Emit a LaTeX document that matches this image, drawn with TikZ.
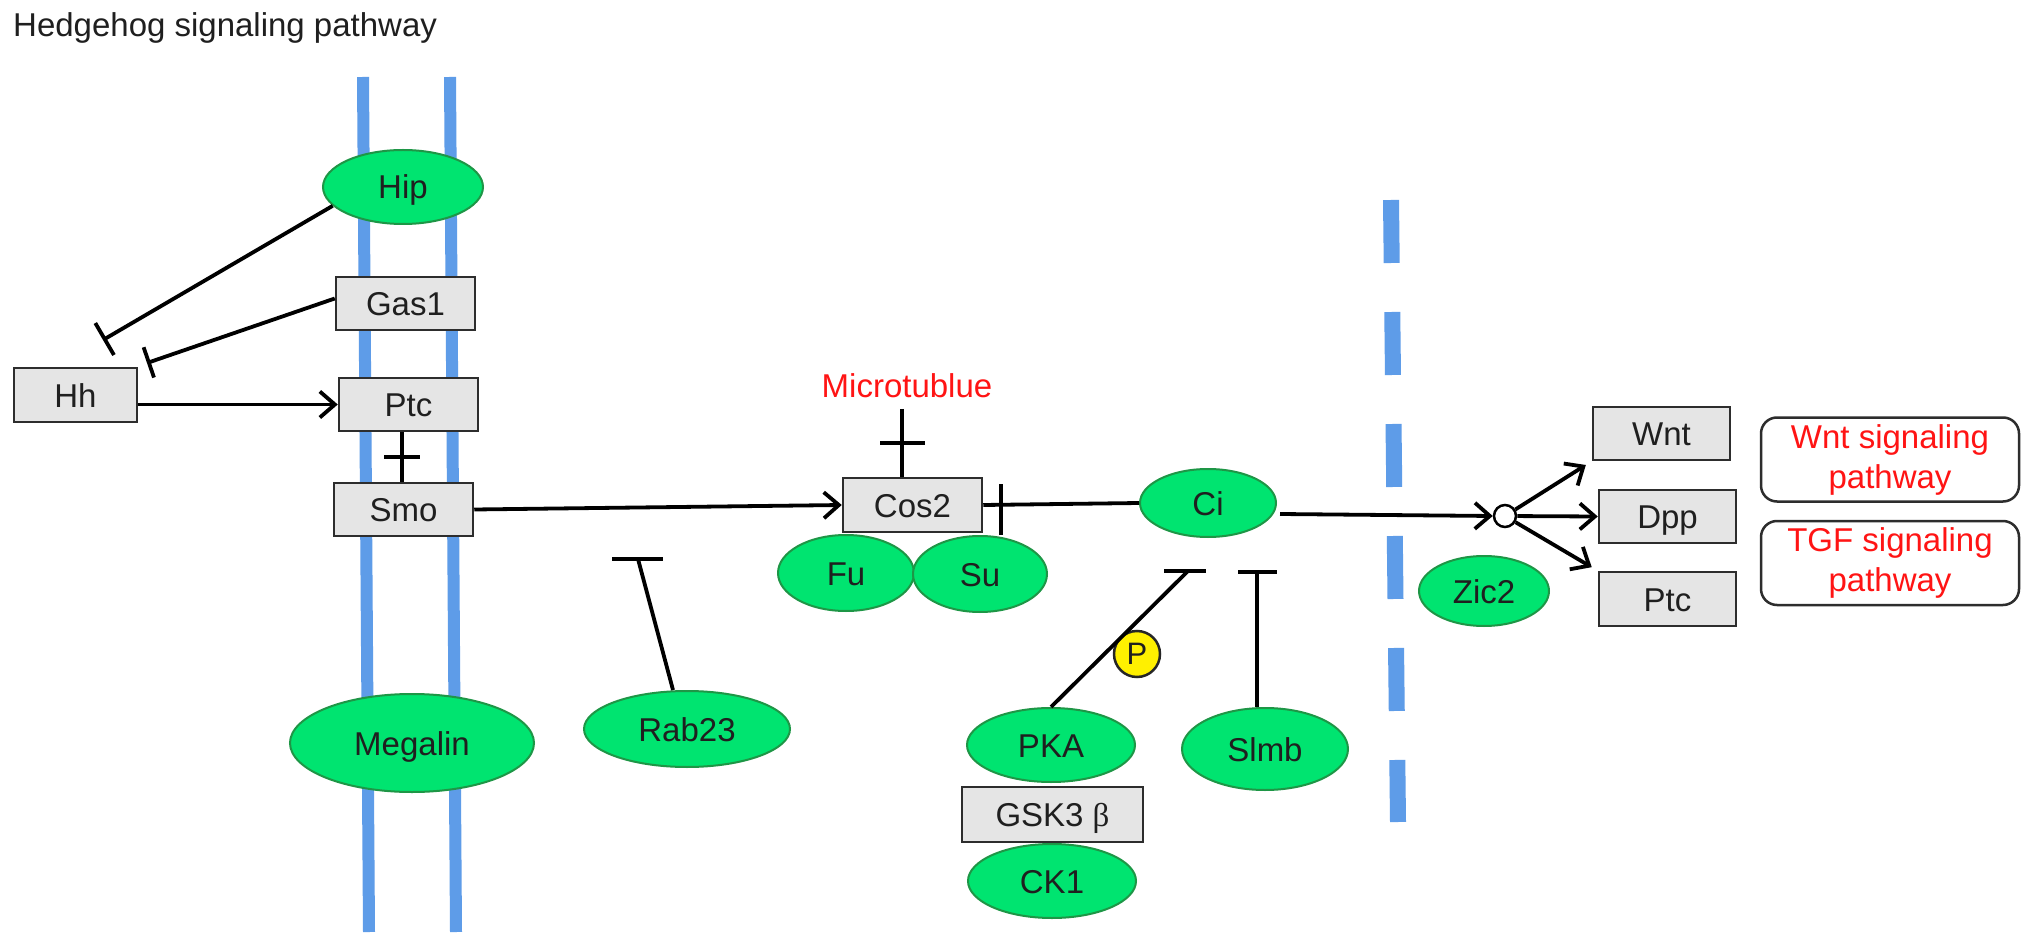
\documentclass[tikz,border=0pt]{standalone}
\usepackage{fontspec}
\setmainfont{Liberation Sans}
\newfontfamily\greekserif{Liberation Serif}
\usetikzlibrary{shapes.geometric,arrows.meta}
\definecolor{nodegreen}{RGB}{0,228,112}
\definecolor{greenline}{RGB}{30,150,70}
\definecolor{boxgray}{RGB}{229,229,229}
\definecolor{boxline}{RGB}{45,45,45}
\definecolor{membrane}{RGB}{94,156,232}
\definecolor{labelred}{RGB}{255,20,20}
\definecolor{pyellow}{RGB}{255,240,0}
\begin{document}
\begin{tikzpicture}[x=1pt,y=-1pt,
  every node/.style={font=\fontsize{33}{40}\selectfont, inner sep=0pt, text=black!88},
  gbox/.style={draw=boxline, fill=boxgray, line width=2.5pt, rectangle, text height=24pt, text depth=0pt},
  gell/.style={draw=greenline, fill=nodegreen, line width=2pt, ellipse, text height=24pt, text depth=0pt},
  conn/.style={line width=3.8pt, black},
  act/.style={conn, -{Straight Barb[length=15pt,width=26pt]}},
  memb/.style={line width=12pt, membrane},
  pbox/.style={draw=boxline, line width=2.5pt, rounded corners=16pt, text=labelred, align=center,
    minimum width=258pt, minimum height=84pt},
]
\fill[white] (0,0) rectangle (2032,949);
\useasboundingbox (0,0) rectangle (2032,949);

% title
\node[anchor=base west] (title) at (13,37) {Hedgehog signaling pathway};

% membranes
\draw[memb] (363,77) -- (369,932);
\draw[memb] (450,77) -- (456,932);
\draw[membrane, line width=16pt, dash pattern=on 63pt off 49pt] (1391,200) -- (1398,822);

% nodes
\node[gell, minimum width=160pt, minimum height=74pt] (Hip) at (403,187) {Hip};
\node[gbox, minimum width=139pt, minimum height=53pt] (Gas1) at (405.5,303.5) {Gas1};
\node[gbox, minimum width=123pt, minimum height=54pt] (Hh) at (75.5,395) {Hh};
\node[gbox, minimum width=139pt, minimum height=53pt] (Ptc) at (408.5,404.5) {Ptc};
\node[gbox, minimum width=139pt, minimum height=53pt] (Smo) at (403.5,509.5) {Smo};
\node[gell, minimum width=244pt, minimum height=98pt] (Megalin) at (412,743) {Megalin};
\node[gell, minimum width=206pt, minimum height=76pt] (Rab23) at (687,729) {Rab23};

\node[anchor=base, text=labelred] (Mt) at (907,398) {Microtublue};
\node[gbox, minimum width=139pt, minimum height=54pt] (Cos2) at (912.5,505) {Cos2};
\node[gell, minimum width=136pt, minimum height=76pt] (Fu) at (846,573) {Fu};
\node[gell, minimum width=134pt, minimum height=76pt] (Su) at (980,574) {Su};
\node[gell, minimum width=136pt, minimum height=68pt] (Ci) at (1208,503) {Ci};

\node[gell, minimum width=168pt, minimum height=74pt] (PKA) at (1051,745) {PKA};
\node[gbox, minimum width=181pt, minimum height=55pt] (GSK) at (1052.5,814.5) {GSK3 {\greekserif β}};
\node[gell, minimum width=168pt, minimum height=74pt] (CK1) at (1052,881) {CK1};
\node[gell, minimum width=166pt, minimum height=82pt] (Slmb) at (1265,749) {Slmb};
\node[circle, draw=black!85, fill=pyellow, line width=2.5pt, minimum size=46pt,
      font=\fontsize{31}{31}\selectfont] (P) at (1137,654) {P};

\node[circle, draw=black, fill=white, line width=2.5pt, minimum size=22pt] (hub) at (1505,516) {};
\node[gell, minimum width=130pt, minimum height=70pt] (Zic2) at (1484,591) {Zic2};
\node[gbox, minimum width=137pt, minimum height=53pt] (Wnt) at (1661.5,433.5) {Wnt};
\node[gbox, minimum width=137pt, minimum height=53pt] (Dpp) at (1667.5,516.5) {Dpp};
\node[gbox, minimum width=137pt, minimum height=54pt] (Ptc2) at (1667.5,599) {Ptc};
\node[pbox] (WntSig) at (1890,459.5) {Wnt signaling\\pathway};
\node[pbox] (TGFSig) at (1890,563) {TGF signaling\\pathway};

% coordinates for free ends
\coordinate (hhT1) at (103,340);
\coordinate (hhT2) at (147,363);
\coordinate (rabT) at (638,559);
\coordinate (mtTop) at (902,409);
\coordinate (cosBar) at (1001,509.5);
\coordinate (pkaT) at (1188,571);
\coordinate (slT) at (1257,572);

% connectors
\draw[conn, -{Bar[width=37pt]}] (Hip.195) -- (hhT1);
\draw[conn, -{Bar[width=32pt]}] ([yshift=5pt]Gas1.west) -- (hhT2);
\draw[act] (Hh.east |- Ptc.west) -- (Ptc.west);
\draw[conn] (Smo.north -| 402,0) -- coordinate (psm) (Ptc.south -| 402,0);
\draw[conn] ([xshift=-18pt]psm) -- ([xshift=18pt]psm);
\draw[act] (Smo.east) -- (Cos2.west);

\draw[conn] ([xshift=-14pt]Rab23.north) -- (rabT);
\draw[conn] ([xshift=-26pt]rabT) -- ([xshift=25pt]rabT);

\draw[conn] (mtTop) -- coordinate (mtc) (mtTop |- Cos2.north);
\draw[conn] ([xshift=-22pt]mtc) -- ([xshift=23pt]mtc);

\draw[conn] (Ci.west) -- (Cos2.east);
\draw[conn] ([yshift=25.5pt]cosBar) -- ([yshift=-25.5pt]cosBar);

\draw[conn] (PKA.north) -- (pkaT);
\draw[conn] ([xshift=-24pt]pkaT) -- ([xshift=18pt]pkaT);
\draw[conn] (Slmb.north -| slT) -- (slT);
\draw[conn] ([xshift=-19pt]slT) -- ([xshift=20pt]slT);

\draw[act] ([xshift=3pt,yshift=-11pt]Ci.east) -- (hub.west);
\draw[act, shorten >=7pt] (hub) -- (Wnt.south west);
\draw[act] (hub) -- (Dpp.west);
\draw[act, shorten >=7pt] (hub) -- (Ptc2.north west);
\end{tikzpicture}
\end{document}
